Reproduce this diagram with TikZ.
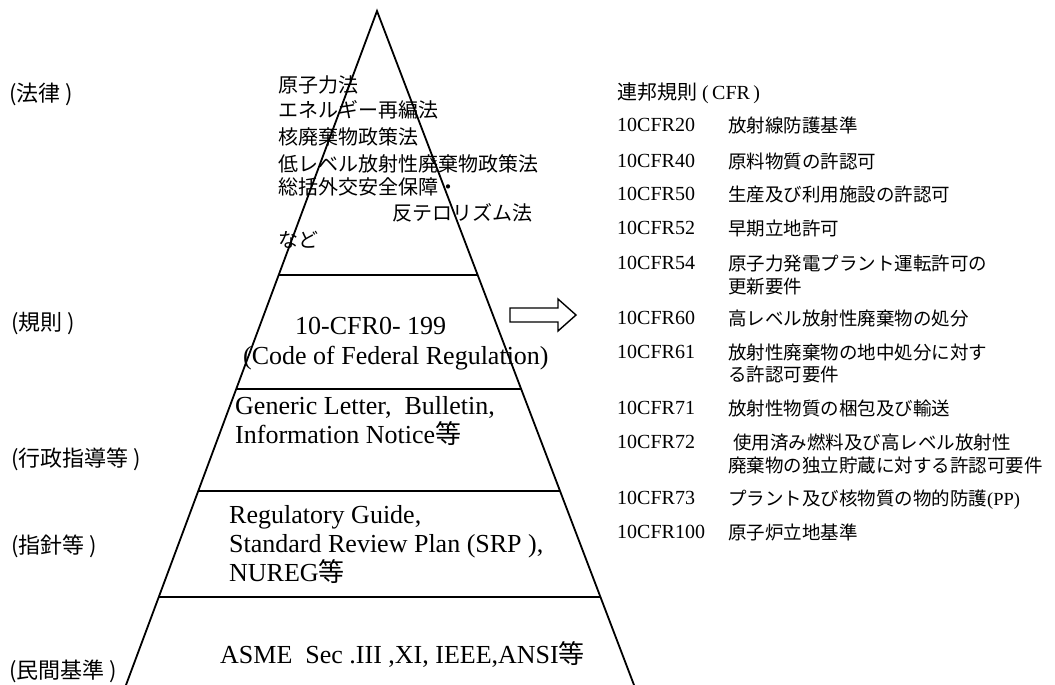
\documentclass[tikz,border=0pt]{standalone}
\usepackage{fontspec}
\setmainfont{Liberation Serif}
\newfontfamily\jp{Noto Sans CJK JP}
\usetikzlibrary{calc}
\begin{document}
\begin{tikzpicture}[x=1pt,y=-1pt,
  edge/.style={line width=1.8pt, line cap=round, line join=miter},
  jtop/.style={font=\jp\fontsize{20}{24}\selectfont, anchor=west, inner sep=0pt, text height=17.6pt, text depth=2.4pt},
  jlev/.style={font=\jp\fontsize{22}{26}\selectfont, anchor=west, inner sep=0pt, text height=19.4pt, text depth=2.6pt},
  ser/.style={font=\fontsize{26}{30}\selectfont, anchor=west, inner sep=0pt, text height=17.7pt, text depth=0pt},
  codetxt/.style={font=\fontsize{20}{24}\selectfont, anchor=west, inner sep=0pt, text height=13.6pt, text depth=0pt},
  desc/.style={font=\jp\fontsize{18.5}{22}\selectfont, anchor=west, inner sep=0pt, text height=16.3pt, text depth=2.2pt}]
\useasboundingbox (0,0) rectangle (1055,685);
\fill[white] (0,0) rectangle (1055,685);
% pyramid
\coordinate (apex) at (377,11);
\coordinate (bl) at (126,685);
\coordinate (br) at (634,685);
\draw[edge] (bl) -- (apex) -- (br);
\foreach \t/\n in {0.3917/a,0.5608/b,0.7122/c,0.8694/d}{
  \coordinate (L\n) at ($(apex)!\t!(bl)$);
  \coordinate (R\n) at ($(apex)!\t!(br)$);
  \draw[edge, line cap=butt] (L\n) -- (R\n);
}
% arrow
\draw[line width=1.4pt, line join=miter] (510,308) -- (558,308) -- (558,299) -- (576,315) -- (558,331) -- (558,322) -- (510,322) -- cycle;
% left labels
\node[jlev] (h1) at (9,93) {(法律 )};
\node[jlev] (h2) at (11,322) {(規則 )};
\node[jlev] (h3) at (11,458) {(行政指導等 )};
\node[jlev] (h4) at (11,545) {(指針等 )};
\node[jlev] (h5) at (9,670) {(民間基準 )};
% top layer
\node[jtop] (t1) at (278,85) {原子力法};
\node[jtop] (t2) at (278,110) {エネルギー再編法};
\node[jtop] (t3) at (278,137) {核廃棄物政策法};
\node[jtop] (t4) at (278,164) {低レベル放射性廃棄物政策法};
\node[jtop] (t5) at (278,187) {総括外交安全保障・};
\node[jtop] (t6) at (392,213) {反テロリズム法};
\node[jtop] (t7) at (278,240) {など};
% layers
\node[ser] (r1) at (295,326) {10-CFR0- 199};
\node[ser] (r2) at (243,356) {(Code of Federal Regulation)};
\node[ser] (g1) at (235,406) {Generic Letter,\ \ Bulletin,};
\node[ser] (g2) at (235,435) {Information Notice{\jp 等}};
\node[ser] (s1) at (229,515) {Regulatory Guide,};
\node[ser] (s2) at (229,544) {Standard Review Plan (SRP ),};
\node[ser] (s3) at (229,573) {NUREG{\jp 等}};
\node[ser] (a1) at (220,655) {ASME\ \ Sec .III ,XI, IEEE,ANSI{\jp 等}};
% right list
\node[codetxt, text height=17.6pt, text depth=2.4pt] (hd) at (617,92) {{\jp\fontsize{20}{24}\selectfont 連邦規則} (\,CFR\,)};
\node[codetxt] (c20) at (617,125) {10CFR20};
\node[codetxt] (c40) at (617,161) {10CFR40};
\node[codetxt] (c50) at (617,194) {10CFR50};
\node[codetxt] (c52) at (617,228) {10CFR52};
\node[codetxt] (c54) at (617,263) {10CFR54};
\node[codetxt] (c60) at (617,318) {10CFR60};
\node[codetxt] (c61) at (617,352) {10CFR61};
\node[codetxt] (c71) at (617,408) {10CFR71};
\node[codetxt] (c72) at (617,442) {10CFR72};
\node[codetxt] (c73) at (617,498) {10CFR73};
\node[codetxt] (c100) at (617,532) {10CFR100};
\node[desc] (d20) at (728,125) {放射線防護基準};
\node[desc] (d40) at (728,161) {原料物質の許認可};
\node[desc] (d50) at (728,194) {生産及び利用施設の許認可};
\node[desc] (d52) at (728,228) {早期立地許可};
\node[desc] (d54) at (728,263) {原子力発電プラント運転許可の};
\node[desc] (d54b) at (728,286) {更新要件};
\node[desc] (d60) at (728,318) {高レベル放射性廃棄物の処分};
\node[desc] (d61) at (728,352) {放射性廃棄物の地中処分に対す};
\node[desc] (d61b) at (728,374) {る許認可要件};
\node[desc] (d71) at (728,408) {放射性物質の梱包及び輸送};
\node[desc] (d72) at (733,442) {使用済み燃料及び高レベル放射性};
\node[desc] (d72b) at (728,465) {廃棄物の独立貯蔵に対する許認可要件};
\node[desc] (d73) at (728,498) {プラント及び核物質の物的防護{\rmfamily\fontsize{18.5}{22}\selectfont (PP)}};
\node[desc] (d100) at (728,532) {原子炉立地基準};
\end{tikzpicture}
\end{document}
